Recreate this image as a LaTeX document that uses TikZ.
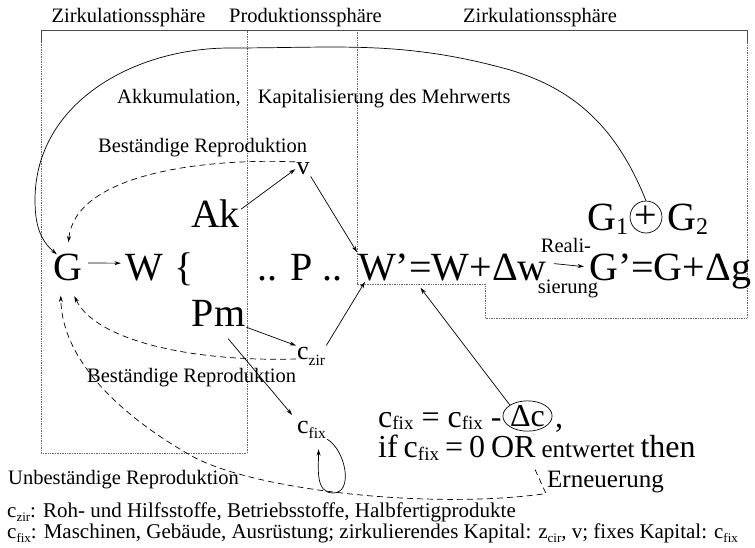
\documentclass[tikz,border=0pt]{standalone}
\usepackage{fontspec}
\setmainfont{Liberation Serif}
\usetikzlibrary{arrows.meta,shapes.geometric}

% font size helper and lowered index text
\newcommand\setfs[1]{\fontsize{#1}{#1}\selectfont}
\newcommand\subtxt[3]{\raisebox{-#2}{\setfs{#1}#3}}

\tikzset{
  lbl/.style={font=\setfs{20.5pt}, inner sep=0pt},
  big/.style={font=\setfs{40pt}, inner sep=1pt},
  mid/.style={font=\setfs{26pt}, inner sep=1pt},
  frm/.style={font=\setfs{32pt}, inner sep=1pt},
  note/.style={font=\setfs{21pt}, inner sep=0pt},
  arr/.style={-{Stealth[length=6.5pt,width=4pt]}, line width=0.7pt},
  dsh/.style={arr, dash pattern=on 6pt off 4pt},
  frame/.style={line width=0.8pt, black!70},
  dots/.style={line width=0.8pt, black!60, dash pattern=on 0.8pt off 0.9pt},
}

\begin{document}
\begin{tikzpicture}[x=1pt,y=1pt]
\useasboundingbox (0,0) rectangle (755,-548);

% spheres: top bracket and dotted regions
\draw[frame] (41,-42) -- (41,-30) -- (747,-30) -- (747,-42);
\draw[dots] (41,-42) -- (41,-453) -- (247,-453) -- (247,-30);
\draw[dots] (357,-30) -- (357,-284) -- (485,-284) -- (485,-318) -- (747,-318) -- (747,-42);

% sphere titles
\node[lbl, anchor=base] (hz1) at (128.5,-23) {Zirkulationssphäre};
\node[lbl, anchor=base] (hp)  at (305.5,-23) {Produktionssphäre};
\node[lbl, anchor=base] (hz2) at (540,-23) {Zirkulationssphäre};

% labels
\node[lbl, anchor=base west] (akk) at (117,-104) {Akkumulation,\hspace{17pt}Kapitalisierung des Mehrwerts};
\node[lbl, anchor=base west] (br1) at (98,-153) {Beständige Reproduktion};
\node[lbl, anchor=base west] (br2) at (87,-382) {Beständige Reproduktion};
\node[lbl, anchor=base west] (ubr) at (8,-484) {Unbeständige Reproduktion};

% circuit formula
\node[big, anchor=base] (G) at (67.5,-280) {G};
\node[big, anchor=base] (W) at (144,-280) {W};
\node[big, anchor=base] (brace) at (184,-280) {\{};
\node[big, anchor=base] (Ak) at (215.5,-228) {Ak};
\node[big, anchor=base] (Pm) at (218.5,-326) {Pm};
\node[big, anchor=base] (P) at (300,-280) {.. P ..};
\node[big, anchor=base west] (Wp) at (357,-280) {W’=W+Δw};
\node[big, anchor=base west] (Gp) at (588,-280) {G’=G+Δg};
\node[lbl, anchor=base] (real) at (566,-253) {Reali-};
\node[lbl, anchor=base] (sier) at (568,-293) {sierung};

% split of G'
\node[big, anchor=base west] (G1) at (586,-230) {G\subtxt{24pt}{5pt}{1}};
\node[big, draw, circle, inner sep=0pt, minimum size=31pt, line width=0.7pt] (plus) at (646,-217) {+};
\node[big, anchor=base west] (G2) at (666,-230) {G\subtxt{24pt}{5pt}{2}};

% capital parts
\node[mid, anchor=base] (v) at (303,-175) {v};
\node[mid, anchor=base west] (czir) at (296,-359) {c\subtxt{15.5pt}{6pt}{zir}};
\node[mid, anchor=base west] (cfix) at (296,-433) {c\subtxt{15.5pt}{5pt}{fix}};

% depreciation rule
\node[frm, anchor=base west] (eq1) at (377,-427) {c\subtxt{19pt}{2pt}{fix} = c\subtxt{19pt}{2pt}{fix} -};
\node[frm, draw, ellipse, inner sep=0pt, line width=0.7pt] (dc) at (527.5,-416) {Δc};
\node[frm, anchor=base west] (comma) at (554,-427) {,};
\node[frm, anchor=base west] (eq2) at (377,-457) {\spaceskip=6pt\relax if c\subtxt{19pt}{3pt}{fix} = 0 OR {\setfs{25pt}entwertet} then};
\node[font=\setfs{25pt}, inner sep=1pt, anchor=base west] (ern) at (546,-487) {Erneuerung};

% legend
\node[note, anchor=base west] (n1) at (7,-517) {c\subtxt{13pt}{4pt}{zir}: Roh- und Hilfsstoffe, Betriebsstoffe, Halbfertigprodukte};
\node[note, anchor=base west] (n2) at (7,-538) {c\subtxt{13pt}{4pt}{fix}: Maschinen, Gebäude, Ausrüstung; zirkulierendes Kapital: z\subtxt{13pt}{4pt}{cir}, v; fixes Kapital: c\subtxt{13pt}{4pt}{fix}};

% solid flows
\draw[arr, shorten <=5pt, shorten >=3pt] ([yshift=4pt]G.east) -- ([yshift=4pt]W.west);
\draw[arr] ([yshift=5pt]Ak.east) -- (v.west);
\draw[arr] (v.south east) -- (Wp.north west);
\draw[arr] (Pm.south east) -- (czir.north west);
\draw[arr] (czir.north east) -- ([xshift=8pt]Wp.south west);
\draw[arr, shorten <=15pt, shorten >=6pt] (Pm.south) -- (cfix.north west);
\draw[arr] (cfix.south east) to[out=-30,in=0] (333,-493) to[out=180,in=-90] ([shift={(7pt,-10pt)}]cfix.south);
\draw[arr] (dc.north west) -- ([shift={(-32pt,-6pt)}]Wp.south);
\draw[arr, shorten <=6pt, shorten >=4pt] ([yshift=4pt]Wp.east) -- ([yshift=4pt]Gp.west);

% accumulation back to money capital
\coordinate (cmid) at (503,-68);
\coordinate (ctop) at (230,-48);
\coordinate (cleft) at (35,-200);
\draw[arr] (plus.north) to[out=112,in=-15] (cmid) to[out=165,in=0] (ctop)
  to[out=180,in=90] (cleft) to[out=-90,in=140] ([shift={(5pt,-2pt)}]G.north west);

% reproduction (dashed)
\draw[dsh, shorten >=10pt] (v.north west) .. controls (200,-158) and (75,-175) .. (G.north);
\draw[dsh, shorten >=16pt] (czir.base west) .. controls (190,-362) and (95,-340) .. (G.south);
\draw[dsh, shorten >=14pt] ([xshift=-11pt]ern.north west) -- (ern.south west)
  .. controls (430,-510) and (250,-490) .. (190,-455)
  .. controls (120,-415) and (62,-360) .. ([xshift=-7pt]G.south);
\end{tikzpicture}
\end{document}
